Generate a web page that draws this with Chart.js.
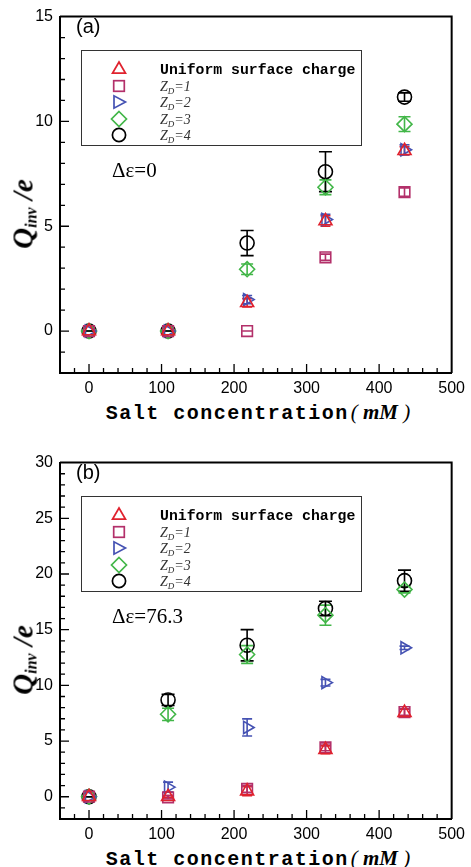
<!DOCTYPE html>
<html>
<head>
<meta charset="utf-8">
<title>Q_inv vs salt concentration</title>
<script src="https://cdn.jsdelivr.net/npm/chart.js@4.4.0/dist/chart.umd.min.js"></script>
<style>
  html, body { margin: 0; padding: 0; background: #fff; }
  body { width: 471px; height: 867px; position: relative; overflow: hidden; font-family: 'Liberation Sans', Arial, sans-serif; color: #000; }
  .panel { position: absolute; left: 0; width: 471px; height: 430px; }
  .panel canvas { position: absolute; left: 0; top: 0; }
  .tag { position: absolute; left: 76px; top: 15px; font-size: 20px; }
  .deps { position: absolute; left: 112px; top: 158px; font-family: 'Liberation Serif', 'Times New Roman', serif; font-size: 21px; }
  .ytitle { position: absolute; left: 23px; top: 214px; transform: translate(-50%, -50%) rotate(-90deg); white-space: nowrap;
            font-family: 'Liberation Serif', 'Times New Roman', serif; font-weight: bold; font-style: italic; font-size: 29px; }
  .ytitle sub { font-size: 16px; vertical-align: baseline; position: relative; top: 4px; font-weight: bold; }
  .xtitle { position: absolute; left: 258px; top: 412px; transform: translate(-50%, -50%); white-space: nowrap; }
  .mono { font-family: 'Liberation Mono', 'Courier New', monospace; font-weight: bold; }
  .xtitle .mono { font-size: 20px; letter-spacing: 1.5px; }
  .xtitle .ser { font-family: 'Liberation Serif', 'Times New Roman', serif; font-size: 21px; font-style: italic; margin-left: 2px; }
  .xtitle .ser b { font-weight: bold; }
  .legend { position: absolute; left: 81px; top: 50px; width: 279px; height: 94px; border: 1.5px solid #333; background: #fff; }
  .legend .row { position: absolute; left: 0; height: 16px; }
  .legend svg { position: absolute; left: 28px; top: -9px; }
  .legend .lab { position: absolute; left: 78px; top: -9px; white-space: nowrap; line-height: 18px; }
  .legend .mono { font-size: 14.8px; }
  .legend .zd { font-family: 'Liberation Serif', 'Times New Roman', serif; font-style: italic; font-size: 14px; color: #333; }
  .legend .zd sub { font-size: 9px; vertical-align: baseline; position: relative; top: 3px; }
</style>
</head>
<body>
<div class="panel" id="panelA" style="top:0px">
  <canvas id="chartA" width="471" height="395"></canvas>
</div>
<div class="panel" id="panelB" style="top:446px">
  <canvas id="chartB" width="471" height="395"></canvas>
</div>
<script>
// salt concentration (mM) where the points sit
const xValues = [0, 109, 218, 326, 435];
const xTicks = [0, 100, 200, 300, 400, 500];
const yTicksA = [0, 5, 10, 15];
const yTicksB = [0, 5, 10, 15, 20, 25, 30];

const seriesNames = ['Uniform surface charge', 'Z_D=1', 'Z_D=2', 'Z_D=3', 'Z_D=4'];

// (a) delta eps = 0
const uniformA = [0, 0, 1.35, 5.25, 8.6];
const zd1A = [0, 0, 0, 3.52, 6.63];
const zd2A = [0, 0, 1.5, 5.32, 8.65];
const zd3A = [0, 0, 2.95, 6.86, 9.87];
const zd4A = [0, 0, 4.2, 7.6, 11.16];
const uniformErrA = [0, 0, 0.2, 0.25, 0.2];
const zd1ErrA = [0, 0, 0, 0.15, 0.2];
const zd2ErrA = [0, 0, 0.2, 0.25, 0.24];
const zd3ErrA = [0, 0, 0.25, 0.35, 0.35];
const zd4ErrA = [0, 0, 0.6, 0.95, 0.2];

// (b) delta eps = 76.3
const uniformB = [0, 0, 0.5, 4.22, 7.55];
const zd1B = [0, -0.05, 0.7, 4.43, 7.6];
const zd2B = [0, 0.86, 6.22, 10.24, 13.37];
const zd3B = [0, 7.4, 12.77, 16.3, 18.6];
const zd4B = [0, 8.69, 13.6, 16.9, 19.4];
const uniformErrB = [0, 0.1, 0.4, 0.35, 0.3];
const zd1ErrB = [0, 0.15, 0.3, 0.3, 0.3];
const zd2ErrB = [0, 0.45, 0.77, 0.3, 0.15];
const zd3ErrB = [0, 0.55, 0.8, 0.9, 0.3];
const zd4ErrB = [0, 0.5, 1.4, 0.65, 0.95];

// marker look per series
const STYLE = [
  { color: '#e0222e', style: 'triangle', rot: 0, r: 7.5, cap: 5 },
  { color: '#b3306a', style: 'rect', rot: 0, r: 7.5, cap: 5 },
  { color: '#4552b3', style: 'triangle', rot: 90, r: 7, cap: 5 },
  { color: '#42b648', style: 'rectRot', rot: 0, r: 7.5, cap: 6 },
  { color: '#000000', style: 'circle', rot: 0, r: 7, cap: 6.5 },
];

const FONT = "'Liberation Sans', Arial, sans-serif";

// vertical error bars with caps, drawn through the library scales
const errorBars = {
  id: 'errorBars',
  beforeDatasetsDraw(chart) {
    const { ctx, scales: { y } } = chart;
    ctx.save();
    chart.data.datasets.forEach((ds, i) => {
      const meta = chart.getDatasetMeta(i);
      ctx.strokeStyle = ds.borderColor;
      ctx.lineWidth = 1.6;
      meta.data.forEach((pt, j) => {
        const v = ds.data[j].y;
        const e = ds.errors[j];
        const yt = y.getPixelForValue(v + e);
        const yb = y.getPixelForValue(v - e);
        const w = ds.capWidth;
        ctx.beginPath();
        ctx.moveTo(pt.x, yt); ctx.lineTo(pt.x, yb);
        ctx.moveTo(pt.x - w, yt); ctx.lineTo(pt.x + w, yt);
        ctx.moveTo(pt.x - w, yb); ctx.lineTo(pt.x + w, yb);
        ctx.stroke();
      });
    });
    ctx.restore();
  }
};

// closed frame and inward tick marks (major + minor)
const frameTicks = {
  id: 'frameTicks',
  afterDraw(chart, args, opts) {
    const { ctx, chartArea: a, scales: { x, y } } = chart;
    ctx.save();
    ctx.strokeStyle = '#000';
    ctx.lineWidth = 2;
    ctx.beginPath();
    ctx.moveTo(a.left, a.top); ctx.lineTo(a.right, a.top); ctx.lineTo(a.right, a.bottom);
    ctx.stroke();
    ctx.lineWidth = 1.3;
    ctx.beginPath();
    for (let v = Math.ceil(x.min / opts.xMinor) * opts.xMinor; v < x.max; v += opts.xMinor) {
      const px = x.getPixelForValue(v);
      if (px <= a.left + 1) continue;
      const len = xTicks.includes(v) ? 9 : 5;
      ctx.moveTo(px, a.bottom); ctx.lineTo(px, a.bottom - len);
    }
    for (let v = Math.ceil(y.min / opts.yMinor) * opts.yMinor; v < y.max; v += opts.yMinor) {
      const py = y.getPixelForValue(v);
      if (py >= a.bottom - 1) continue;
      const len = opts.yMajor.includes(v) ? 9 : 5;
      ctx.moveTo(a.left, py); ctx.lineTo(a.left + len, py);
    }
    ctx.stroke();
    ctx.restore();
  }
};

function makeChart(canvasId, values, errors, yMin, yMax, yTicks) {
  const datasets = seriesNames.map((name, i) => ({
    label: name,
    data: xValues.map((xv, j) => ({ x: xv, y: values[i][j] })),
    errors: errors[i],
    capWidth: STYLE[i].cap,
    borderColor: STYLE[i].color,
    backgroundColor: 'rgba(0,0,0,0)',
    pointStyle: STYLE[i].style,
    pointRotation: STYLE[i].rot,
    pointRadius: STYLE[i].r,
    pointHoverRadius: STYLE[i].r,
    pointBorderWidth: 1.6,
    showLine: false,
  }));

  const axisCommon = {
    type: 'linear',
    grid: { display: false, drawTicks: false },
    border: { display: true, color: '#000', width: 2 },
    ticks: { color: '#000', font: { family: FONT, size: 16 }, autoSkip: false, maxRotation: 0 },
  };

  return new Chart(document.getElementById(canvasId), {
    type: 'scatter',
    data: { datasets },
    options: {
      responsive: false,
      animation: false,
      events: [],
      layout: { padding: { top: 14, right: 15, left: 0, bottom: 0 } },
      plugins: {
        legend: { display: false },
        tooltip: { enabled: false },
        frameTicks: { xMinor: 20, yMinor: 1, yMajor: yTicks },
      },
      scales: {
        x: {
          ...axisCommon,
          min: -40, max: 500,
          ticks: { ...axisCommon.ticks, padding: 6 },
          afterBuildTicks: (s) => { s.ticks = xTicks.map((v) => ({ value: v })); },
          afterFit: (s) => { s.height = 22; },
        },
        y: {
          ...axisCommon,
          min: yMin, max: yMax,
          ticks: { ...axisCommon.ticks, padding: 7 },
          afterBuildTicks: (s) => { s.ticks = yTicks.map((v) => ({ value: v })); },
          afterFit: (s) => { s.width = 60; },
        },
      },
    },
    plugins: [errorBars, frameTicks],
  });
}

function markerSvg(i) {
  const c = STYLE[i].color;
  let shape = '';
  if (i === 0) shape = `<polygon points="9,2 15.5,13.2 2.5,13.2" />`;
  else if (i === 1) shape = `<rect x="3.7" y="3.7" width="10.6" height="10.6" />`;
  else if (i === 2) shape = `<polygon points="15.5,9 4,2.8 4,15.2" />`;
  else if (i === 3) shape = `<polygon points="9,1.5 16.5,9 9,16.5 1.5,9" />`;
  else shape = `<circle cx="9" cy="9" r="6.6" />`;
  return `<svg width="18" height="18" viewBox="0 0 18 18"><g fill="none" stroke="${c}" stroke-width="1.7">${shape}</g></svg>`;
}

function labelHtml(name) {
  const m = name.match(/^Z_D(=.*)$/);
  if (m) return `<span class="zd">Z<sub>D</sub>${m[1]}</span>`;
  return `<span class="mono">${name}</span>`;
}

function decorate(panelId, tag, deps) {
  const p = document.getElementById(panelId);
  let rows = '';
  seriesNames.forEach((name, i) => {
    rows += `<div class="row" style="top:${18 + i * 16.5}px">${markerSvg(i)}<div class="lab">${labelHtml(name)}</div></div>`;
  });
  p.insertAdjacentHTML('beforeend',
    `<div class="tag">${tag}</div>` +
    `<div class="legend">${rows}</div>` +
    `<div class="deps">${deps}</div>` +
    `<div class="ytitle">Q<sub>inv</sub> /e</div>` +
    `<div class="xtitle"><span class="mono">Salt concentration</span><span class="ser">( <b>mM</b> )</span></div>`);
}

makeChart('chartA', [uniformA, zd1A, zd2A, zd3A, zd4A], [uniformErrA, zd1ErrA, zd2ErrA, zd3ErrA, zd4ErrA], -2, 15, yTicksA);
makeChart('chartB', [uniformB, zd1B, zd2B, zd3B, zd4B], [uniformErrB, zd1ErrB, zd2ErrB, zd3ErrB, zd4ErrB], -2, 30, yTicksB);
decorate('panelA', '(a)', 'Δε=0');
decorate('panelB', '(b)', 'Δε=76.3');
</script>
</body>
</html>
